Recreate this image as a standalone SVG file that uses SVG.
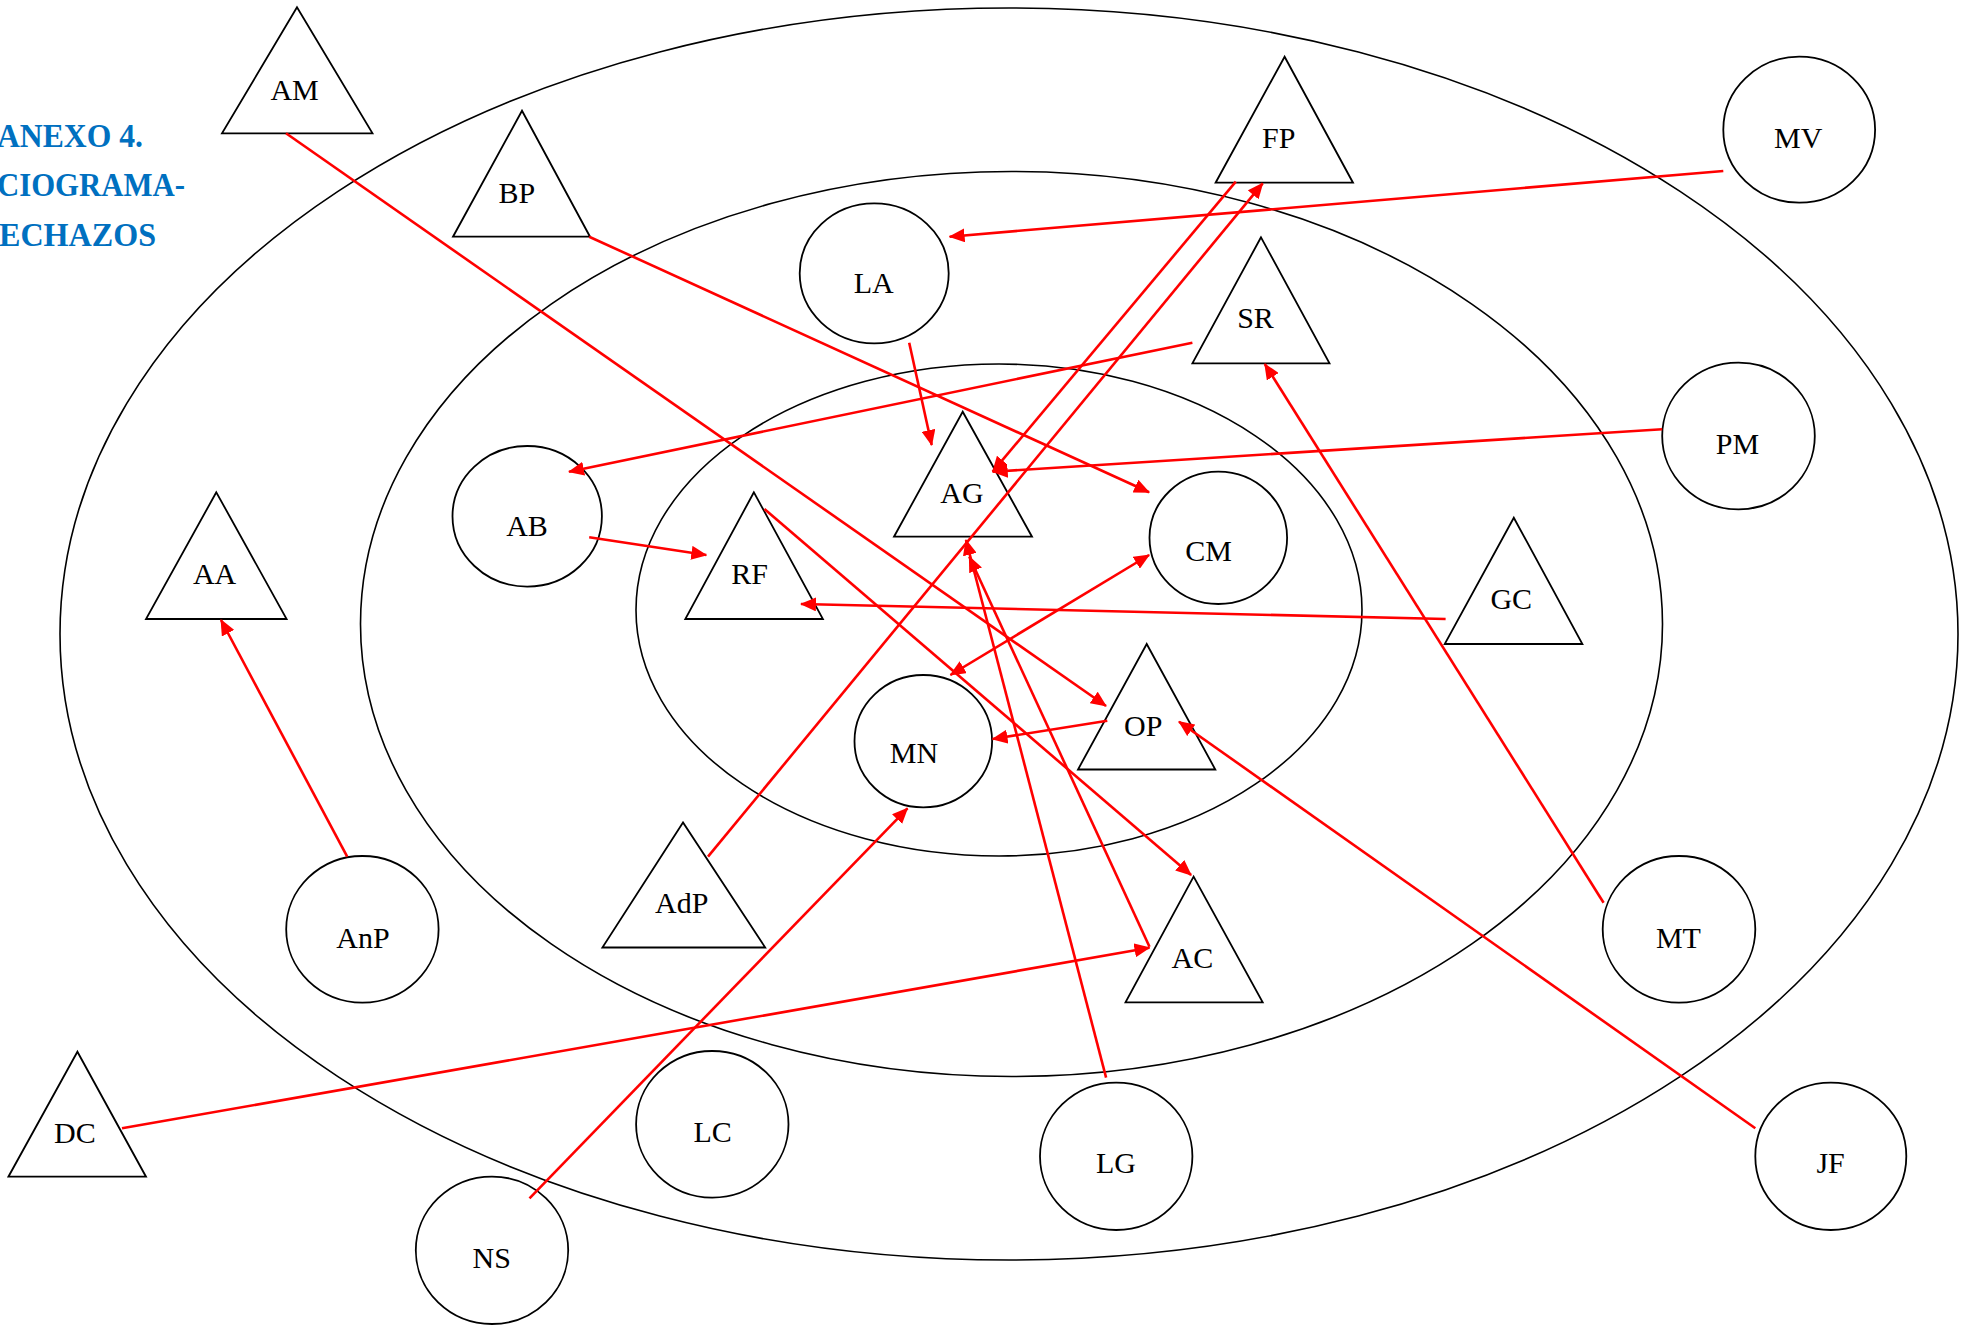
<svg xmlns="http://www.w3.org/2000/svg" width="1972" height="1325" viewBox="0 0 1972 1325">
<style>
.ring{fill:none;stroke:#000;stroke-width:1.6}
.nd{fill:#fff;stroke:#000;stroke-width:1.8}
.lb{font-family:"Liberation Serif","Times New Roman",serif;font-size:30px;fill:#000;text-anchor:middle}
.ttl{font-family:"Liberation Serif","Times New Roman",serif;font-weight:bold;font-size:34px;fill:#0070C0}
.cn{fill:none;stroke:#FF0000;stroke-width:2.6;marker-end:url(#ah)}
</style>
<defs>
<marker id="ah" markerUnits="userSpaceOnUse" markerWidth="16" markerHeight="14" refX="15" refY="7" orient="auto">
<path d="M0,0 L16,7 L0,14 Z" fill="#FF0000"/>
</marker>
<marker id="ahs" markerUnits="userSpaceOnUse" markerWidth="16" markerHeight="14" refX="1" refY="7" orient="auto">
<path d="M16,0 L0,7 L16,14 Z" fill="#FF0000"/>
</marker>
</defs>
<rect width="1972" height="1325" fill="#fff"/>
<g id="rings">
<ellipse class="ring" cx="1009" cy="634" rx="949" ry="626"/>
<ellipse class="ring" cx="1011.5" cy="624" rx="651" ry="452.5"/>
<ellipse class="ring" cx="999" cy="610" rx="363" ry="246"/>
</g>
<g id="title">
<text class="ttl" x="-3" y="146.5" textLength="146" lengthAdjust="spacingAndGlyphs">ANEXO 4.</text>
<text class="ttl" x="-3" y="196" textLength="188" lengthAdjust="spacingAndGlyphs">CIOGRAMA-</text>
<text class="ttl" x="-1" y="246" textLength="157" lengthAdjust="spacingAndGlyphs">ECHAZOS</text>
</g>
<g id="nodes">
<g id="AM"><polygon class="nd" points="297,7.3 222,133.3 372.5,133.3"/><text class="lb" x="294.6" y="100">AM</text></g>
<g id="BP"><polygon class="nd" points="522,110.7 453,236.7 590,236.7"/><text class="lb" x="516.8" y="202.7">BP</text></g>
<g id="FP"><polygon class="nd" points="1284.6,56.7 1215.6,182.7 1353,182.7"/><text class="lb" x="1278.7" y="148">FP</text></g>
<g id="SR"><polygon class="nd" points="1261,237.3 1192.4,363.3 1329.5,363.3"/><text class="lb" x="1255.5" y="328">SR</text></g>
<g id="AA"><polygon class="nd" points="216.3,492.3 146,619 286.6,619"/><text class="lb" x="214.6" y="584.3">AA</text></g>
<g id="AG"><polygon class="nd" points="962.7,411.7 894,536.7 1032,536.7"/><text class="lb" x="962" y="503.3">AG</text></g>
<g id="RF"><polygon class="nd" points="753.9,492.3 685.3,619 822.9,619"/><text class="lb" x="749.6" y="584.3">RF</text></g>
<g id="OP"><polygon class="nd" points="1146.7,644 1078,769.5 1215.3,769.5"/><text class="lb" x="1143.3" y="736">OP</text></g>
<g id="GC"><polygon class="nd" points="1513.8,517.7 1444.7,644 1582.4,644"/><text class="lb" x="1511.3" y="609.3">GC</text></g>
<g id="AdP"><polygon class="nd" points="683,822.5 602.4,947.5 765.2,947.5"/><text class="lb" x="681.7" y="913.3">AdP</text></g>
<g id="AC"><polygon class="nd" points="1193.6,876.6 1125.5,1002.3 1262.7,1002.3"/><text class="lb" x="1192.4" y="968.3">AC</text></g>
<g id="DC"><polygon class="nd" points="77.4,1051.7 8.4,1176.7 146,1176.7"/><text class="lb" x="74.9" y="1143.3">DC</text></g>
<g id="LA"><ellipse class="nd" cx="874.2" cy="273.3" rx="74.5" ry="70"/><text class="lb" x="873.8" y="292.7">LA</text></g>
<g id="MV"><ellipse class="nd" cx="1799.2" cy="129.7" rx="75.9" ry="73"/><text class="lb" x="1798.2" y="147.7">MV</text></g>
<g id="PM"><ellipse class="nd" cx="1738.5" cy="436" rx="76.3" ry="73.3"/><text class="lb" x="1737.5" y="454">PM</text></g>
<g id="AB"><ellipse class="nd" cx="527.2" cy="516.3" rx="74.7" ry="70.3"/><text class="lb" x="527" y="535.7">AB</text></g>
<g id="CM"><ellipse class="nd" cx="1218.3" cy="537.8" rx="68.8" ry="66.2"/><text class="lb" x="1208.6" y="560.7">CM</text></g>
<g id="MN"><ellipse class="nd" cx="923.3" cy="741.2" rx="68.8" ry="66.2"/><text class="lb" x="914" y="763.3">MN</text></g>
<g id="AnP"><ellipse class="nd" cx="362.4" cy="929.3" rx="76.2" ry="73.3"/><text class="lb" x="363" y="948.3">AnP</text></g>
<g id="NS"><ellipse class="nd" cx="492" cy="1250.3" rx="76.2" ry="73.7"/><text class="lb" x="491.8" y="1268.3">NS</text></g>
<g id="LC"><ellipse class="nd" cx="712.3" cy="1124.3" rx="76.2" ry="73.3"/><text class="lb" x="712.6" y="1141.7">LC</text></g>
<g id="LG"><ellipse class="nd" cx="1116.2" cy="1156.3" rx="76.2" ry="73.7"/><text class="lb" x="1115.9" y="1173.3">LG</text></g>
<g id="MT"><ellipse class="nd" cx="1679" cy="929.3" rx="76.3" ry="73.3"/><text class="lb" x="1678.4" y="948.3">MT</text></g>
<g id="JF"><ellipse class="nd" cx="1830.8" cy="1156.3" rx="75.5" ry="73.7"/><text class="lb" x="1830.6" y="1173.3">JF</text></g>
</g>
<g id="connectors">
<line class="cn" x1="286" y1="133.3" x2="1106" y2="706"/>
<line class="cn" x1="589.2" y1="236.7" x2="1149.1" y2="492.3"/>
<line class="cn" x1="1723.3" y1="171" x2="949.6" y2="236.7"/>
<line class="cn" x1="909.2" y1="342.7" x2="931.7" y2="445"/>
<line class="cn" x1="1192.4" y1="342.7" x2="569" y2="471.7"/>
<line class="cn" x1="1235.8" y1="181.7" x2="992.7" y2="471.7"/>
<line class="cn" x1="708" y1="856.7" x2="1262.7" y2="183.3"/>
<line class="cn" x1="1662.2" y1="429.3" x2="992.7" y2="471.7"/>
<line class="cn" x1="589.2" y1="537.3" x2="706.3" y2="555"/>
<line class="cn" x1="1445.6" y1="619" x2="801" y2="604"/>
<line class="cn" x1="1149.1" y1="555" x2="950.4" y2="675" marker-start="url(#ahs)"/>
<line class="cn" x1="764.4" y1="509" x2="1191.1" y2="875"/>
<line class="cn" x1="1107.3" y1="720.7" x2="992.5" y2="739"/>
<line class="cn" x1="1755.3" y1="1128.3" x2="1179" y2="721.7"/>
<line class="cn" x1="1603.6" y1="902.7" x2="1264.8" y2="364"/>
<line class="cn" x1="1106.1" y1="1077.7" x2="966" y2="540"/>
<line class="cn" x1="1149.5" y1="946.7" x2="969.3" y2="556.7"/>
<line class="cn" x1="122" y1="1128.3" x2="1149.5" y2="947.7"/>
<line class="cn" x1="529.5" y1="1198.3" x2="907.5" y2="808.3"/>
<line class="cn" x1="347.2" y1="856.7" x2="221" y2="620"/>
</g>
</svg>
